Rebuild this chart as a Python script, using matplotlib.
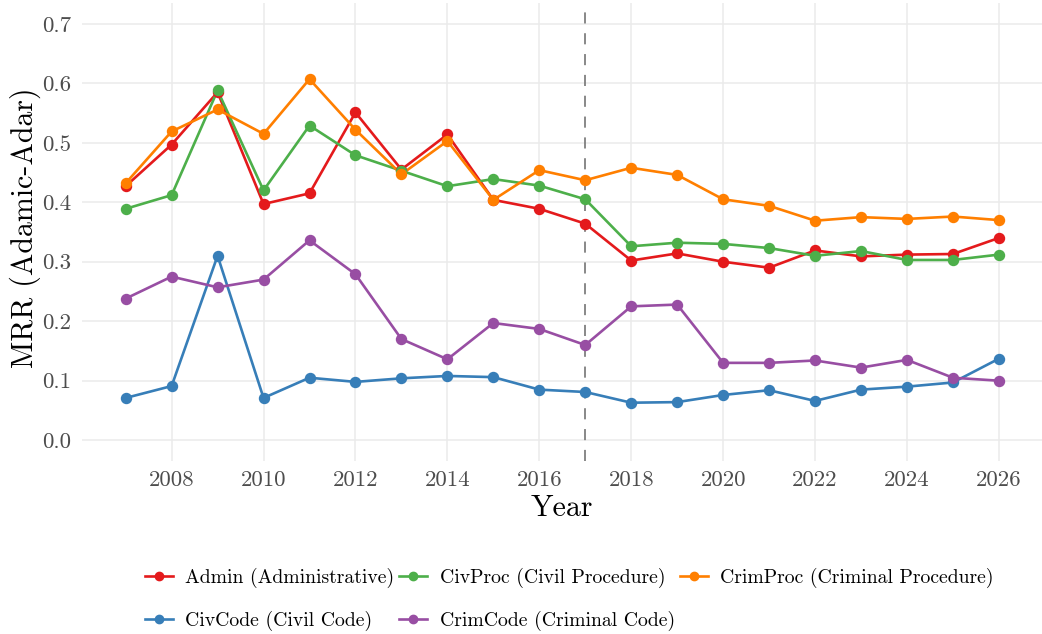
import matplotlib
matplotlib.use("Agg")
import matplotlib.pyplot as plt
from matplotlib.lines import Line2D

years = list(range(2007, 2027))

admin = [0.427, 0.497, 0.585, 0.397, 0.415, 0.551, 0.455, 0.514, 0.404, 0.389,
         0.364, 0.302, 0.314, 0.300, 0.290, 0.319, 0.309, 0.312, 0.313, 0.340]
civcode = [0.071, 0.091, 0.310, 0.071, 0.105, 0.098, 0.104, 0.108, 0.106, 0.085,
           0.081, 0.063, 0.064, 0.076, 0.084, 0.066, 0.085, 0.090, 0.097, 0.137]
civproc = [0.389, 0.412, 0.588, 0.420, 0.529, 0.479, 0.453, 0.427, 0.439, 0.428,
           0.405, 0.326, 0.332, 0.330, 0.323, 0.310, 0.318, 0.303, 0.303, 0.312]
crimcode = [0.238, 0.275, 0.257, 0.270, 0.336, 0.279, 0.170, 0.136, 0.197, 0.187,
            0.160, 0.225, 0.228, 0.130, 0.130, 0.134, 0.122, 0.135, 0.105, 0.100]
crimproc = [0.432, 0.519, 0.556, 0.515, 0.607, 0.522, 0.447, 0.503, 0.404, 0.454,
            0.437, 0.458, 0.446, 0.405, 0.394, 0.369, 0.375, 0.372, 0.376, 0.370]

labels = ["Admin (Administrative)", "CivCode (Civil Code)", "CivProc (Civil Procedure)",
          "CrimCode (Criminal Code)", "CrimProc (Criminal Procedure)"]
colors = ["#E41A1C", "#377EB8", "#4DAF4A", "#984EA3", "#FF7F00"]
series = [admin, civcode, civproc, crimcode, crimproc]

y_ticks = [0.0, 0.1, 0.2, 0.3, 0.4, 0.5, 0.6, 0.7]
x_ticks = list(range(2008, 2027, 2))
cutoff_year = 2017

plt.rcParams["font.family"] = ["cmr10", "DejaVu Serif"]
plt.rcParams["mathtext.fontset"] = "cm"
plt.rcParams["axes.formatter.use_mathtext"] = True
plt.rcParams["lines.scale_dashes"] = False

W, H = 1042, 634
fig = plt.figure(figsize=(W / 100, H / 100), dpi=100)
ax = fig.add_axes([82 / W, 1 - 461 / H, 960 / W, 458 / H])

for s, c in zip(series, colors):
    ax.plot(years, s, color=c, lw=1.9, zorder=2, solid_capstyle="butt")
for s, c in zip(series, colors):
    ax.plot(years, s, color=c, lw=0, marker="o", markersize=7.2, zorder=3)

ax.axvline(cutoff_year, color="#7f7f7f", lw=1.3, dashes=(8, 7), zorder=1.5)

ax.set_xlim(2006.05, 2006.05 + 960 / 45.96)
ax.set_ylim(-0.035, 0.735)
ax.set_yticks(y_ticks)
ax.set_yticklabels([f"{v:.1f}" for v in y_ticks])
ax.set_xticks(x_ticks)
ax.set_xticklabels([str(v) for v in x_ticks])
ax.grid(True, color="#EBEBEB", lw=1.1, zorder=0)
ax.set_axisbelow(True)
for sp in ax.spines.values():
    sp.set_visible(False)
ax.tick_params(length=0, labelsize=16.5, labelcolor="#4D4D4D")
ax.tick_params(axis="y", pad=8)
ax.tick_params(axis="x", pad=7)

fig.text(25 / W, 1 - 228 / H, "MRR (Adamic-Adar)", rotation=90, ha="center", va="center",
         fontsize=21.5, color="black")
fig.text(562 / W, 1 - 508 / H, "Year", ha="center", va="center", fontsize=21.5, color="black")

handles = [Line2D([0], [0], color=c, lw=1.9, marker="o", markersize=6) for c in colors]
fig.legend(handles, labels, ncol=3, loc="upper left",
           bbox_to_anchor=(145 / W, 1 - 568 / H), frameon=False, fontsize=14.2,
           handlelength=1.4, handletextpad=0.65, columnspacing=0.25, labelspacing=1.15,
           borderpad=0, borderaxespad=0)

fig.savefig("out.png", dpi=100)
